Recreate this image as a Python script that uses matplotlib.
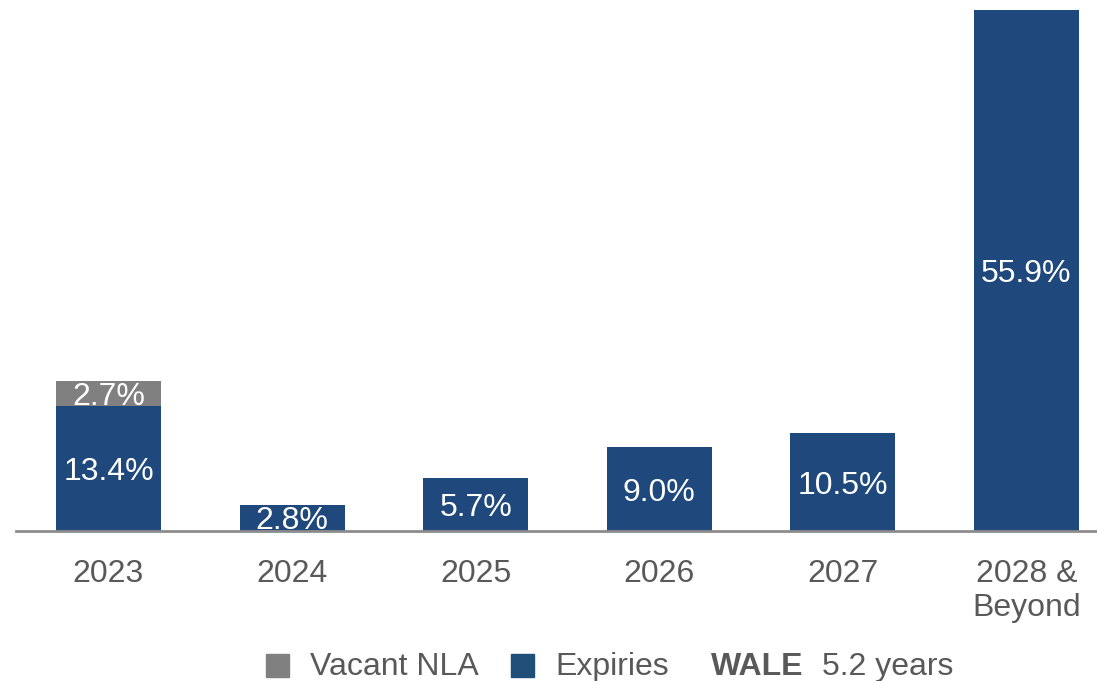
import matplotlib.pyplot as plt

plt.rcParams['font.family'] = ['Liberation Sans', 'DejaVu Sans']

years = ['2023', '2024', '2025', '2026', '2027', '2028 &\nBeyond']
expiries = [13.4, 2.8, 5.7, 9.0, 10.5, 55.9]
vacant = [2.7, 0, 0, 0, 0, 0]
wale = 5.2

blue = '#1F497D'
grey = '#808080'
txt = '#595959'
fs = 23

fig = plt.figure(figsize=(10.97, 6.81), dpi=100)
ax = fig.add_axes([0, 150 / 681, 1, 531 / 681])

x = list(range(len(years)))
ax.bar(x, expiries, width=0.572, color=blue)
ax.bar(x, vacant, width=0.572, bottom=expiries, color=grey)

for i, v in enumerate(expiries):
    ax.annotate(f'{v:.1f}%', (i, v / 2), xytext=(0, -2.5), textcoords='offset points',
                ha='center', va='center', color='white', fontsize=fs)
for i, v in enumerate(vacant):
    if v > 0:
        ax.annotate(f'{v:.1f}%', (i, expiries[i] + v / 2), xytext=(0, -2.5),
                    textcoords='offset points', ha='center', va='center',
                    color='white', fontsize=fs)

ax.set_xlim(-108.5 / 183.6, (1097 - 108.5) / 183.6)
ax.set_ylim(0, 531 / 9.32)
ax.axhline(0, xmin=16 / 1097, xmax=1, color='#8c8c8c', linewidth=2, clip_on=False)

for s in ax.spines.values():
    s.set_visible(False)
ax.set_yticks([])
ax.set_xticks(x)
ax.set_xticklabels(years, fontsize=fs, color=txt, linespacing=1.17)
ax.tick_params(axis='x', length=0, pad=20)

# legend row
fig.patches.append(plt.Rectangle((266 / 1097, 4 / 681), 23 / 1097, 23 / 681,
                                 transform=fig.transFigure, color=grey))
fig.text(310 / 1097, 14 / 681, 'Vacant NLA', fontsize=fs, color=txt, va='center')
fig.patches.append(plt.Rectangle((511 / 1097, 4 / 681), 23 / 1097, 23 / 681,
                                 transform=fig.transFigure, color='#1F4E79'))
fig.text(555 / 1097, 14 / 681, 'Expiries', fontsize=fs, color=txt, va='center')
fig.text(711 / 1097, 14 / 681, 'WALE', fontsize=fs, color=txt, va='center', fontweight='bold')
fig.text(822 / 1097, 14 / 681, f'{wale} years', fontsize=fs, color=txt, va='center')

fig.savefig('out.png', dpi=100)
